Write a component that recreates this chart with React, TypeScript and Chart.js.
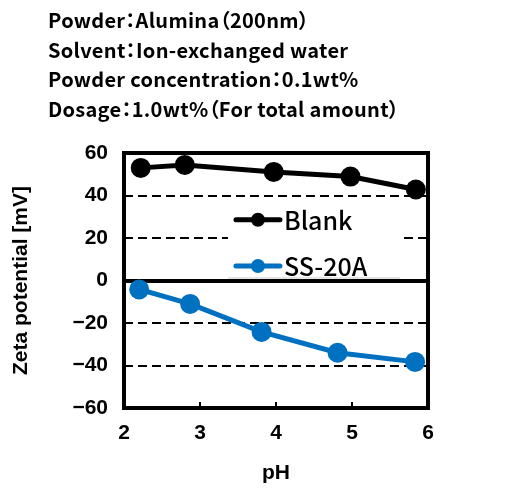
import { Chart, registerables } from 'chart.js';
import { useEffect, useRef } from 'react';

Chart.register(...registerables);

const headerLines = [
    'Powder：Alumina（200nm）',
    'Solvent：Ion-exchanged water',
    'Powder concentration：0.1wt%',
    'Dosage：1.0wt%（For total amount）',
];

const seriesNames = ['Blank', 'SS-20A'];
const blankPH = [2.22, 2.8, 3.97, 4.98, 5.84];
const blankZeta = [53.0, 54.4, 51.1, 48.9, 42.8];
const ss20aPH = [2.2, 2.87, 3.81, 4.81, 5.83];
const ss20aZeta = [-4.2, -11.0, -24.2, -34.0, -38.3];

const xTicks = [2, 3, 4, 5, 6];
const yTicks = [-60, -40, -20, 0, 20, 40, 60];

const BLUE = '#0070C0';
const AXIS_FONT = { family: '"Liberation Sans", Arial, sans-serif', size: 21, weight: 'bold' as const };

// frame, x tick marks and the legend drawn inside the plot
const framePlugin = {
    id: 'frame',
    beforeDatasetsDraw(chart: any) {
        const { ctx, chartArea } = chart;
        const { left, top, right, bottom } = chartArea;
        const w = right - left;
        const h = bottom - top;

        // legend box
        const bx = left + w * 0.342;
        const by = top + h * 0.184;
        const bw = w * 0.566;
        const bh = h * 0.31;
        ctx.save();
        ctx.fillStyle = '#fff';
        ctx.fillRect(bx, by, bw, bh);
        ctx.strokeStyle = '#c8c8c8';
        ctx.lineWidth = 1;
        ctx.beginPath();
        ctx.moveTo(bx, by + bh - 1);
        ctx.lineTo(bx + bw, by + bh - 1);
        ctx.stroke();

        ctx.font = '500 25px "Noto Sans CJK JP", sans-serif';
        ctx.textBaseline = 'middle';
        ctx.textAlign = 'left';
        chart.data.datasets.forEach((ds: any, i: number) => {
            const y = by + bh * (0.25 + i * 0.585);
            const x0 = bx + 8;
            ctx.strokeStyle = ds.borderColor;
            ctx.lineWidth = 5;
            ctx.lineCap = 'round';
            ctx.beginPath();
            ctx.moveTo(x0, y);
            ctx.lineTo(x0 + 44, y);
            ctx.stroke();
            ctx.fillStyle = ds.borderColor;
            ctx.beginPath();
            ctx.arc(x0 + 22, y, 7, 0, Math.PI * 2);
            ctx.fill();
            ctx.fillStyle = '#000';
            ctx.fillText(ds.label, x0 + 48, y + 1);
        });

        // plot frame
        ctx.strokeStyle = '#000';
        ctx.lineWidth = 4;
        ctx.lineCap = 'butt';
        ctx.strokeRect(left, top, w, h);

        // small inward tick marks on the x axis
        const xs = chart.scales.x;
        ctx.lineWidth = 2;
        xs.ticks.forEach((t: any) => {
            if (t.value <= xs.min || t.value >= xs.max) return;
            const px = xs.getPixelForValue(t.value);
            ctx.beginPath();
            ctx.moveTo(px, bottom);
            ctx.lineTo(px, bottom - 6);
            ctx.stroke();
        });
        ctx.restore();
    },
};

function ZetaChart() {
    const chartRef = useRef<HTMLCanvasElement>(null);
    const chartInstance = useRef<Chart | null>(null);

    useEffect(() => {
        if (!chartRef.current) return;
        if (chartInstance.current) chartInstance.current.destroy();

        const ctx = chartRef.current.getContext('2d');
        if (!ctx) return;

        const config: any = {
            type: 'line',
            data: {
                datasets: [
                    {
                        label: seriesNames[0],
                        data: blankPH.map((x, i) => ({ x, y: blankZeta[i] })),
                        borderColor: '#000',
                        backgroundColor: '#000',
                        borderWidth: 5,
                        pointRadius: 10,
                        pointBorderWidth: 0,
                        tension: 0,
                        clip: false,
                    },
                    {
                        label: seriesNames[1],
                        data: ss20aPH.map((x, i) => ({ x, y: ss20aZeta[i] })),
                        borderColor: BLUE,
                        backgroundColor: BLUE,
                        borderWidth: 5,
                        pointRadius: 10,
                        pointBorderWidth: 0,
                        tension: 0,
                        clip: false,
                    },
                ],
            },
            options: {
                responsive: false,
                animation: false,
                layout: { padding: { top: 153, right: 77, left: 0, bottom: 0 } },
                plugins: {
                    legend: { display: false },
                    tooltip: { enabled: false },
                    title: { display: false },
                },
                scales: {
                    x: {
                        type: 'linear',
                        min: xTicks[0],
                        max: xTicks[xTicks.length - 1],
                        afterBuildTicks: (s: any) => {
                            s.ticks = xTicks.map((v) => ({ value: v }));
                        },
                        afterFit: (s: any) => {
                            s.height = 82;
                        },
                        grid: { display: false },
                        border: { display: false },
                        ticks: { color: '#000', font: AXIS_FONT, padding: 5, maxRotation: 0 },
                        title: {
                            display: true,
                            text: 'pH',
                            color: '#000',
                            font: AXIS_FONT,
                            padding: { top: 0, bottom: 4 },
                        },
                    },
                    y: {
                        type: 'linear',
                        min: yTicks[0],
                        max: yTicks[yTicks.length - 1],
                        afterBuildTicks: (s: any) => {
                            s.ticks = yTicks.map((v) => ({ value: v }));
                        },
                        afterFit: (s: any) => {
                            s.width = 124;
                        },
                        grid: {
                            drawTicks: false,
                            color: '#000',
                            lineWidth: (c: any) => {
                                const v = c.tick?.value;
                                if (v === 0) return 4;
                                if (v === yTicks[0] || v === yTicks[yTicks.length - 1]) return 0;
                                return 2;
                            },
                        },
                        border: {
                            display: false,
                            dash: (c: any) => (c.tick?.value === 0 ? [] : [9, 5]),
                        },
                        ticks: {
                            color: '#000',
                            font: AXIS_FONT,
                            padding: 16,
                            callback: (v: number) => String(v).replace('-', '\u2212'),
                        },
                        title: {
                            display: true,
                            text: 'Zeta potential [mV]',
                            color: '#000',
                            font: AXIS_FONT,
                            padding: { top: 9, bottom: 0 },
                        },
                    },
                },
            },
            plugins: [framePlugin],
        };

        chartInstance.current = new Chart(ctx, config);

        return () => {
            if (chartInstance.current) {
                chartInstance.current.destroy();
                chartInstance.current = null;
            }
        };
    }, []);

    return <canvas ref={chartRef} width={505} height={490} style={{ position: 'absolute', left: 0, top: 0 }} />;
}

export default function App() {
    return (
        <div style={{ position: 'absolute', left: 0, top: 0, width: 505, height: 490, background: '#fff' }}>
            <ZetaChart />
            <div
                style={{
                    position: 'absolute',
                    left: 48,
                    top: 5,
                    fontFamily: '"Noto Sans CJK JP", sans-serif',
                    fontWeight: 'bold',
                    fontSize: 20,
                    letterSpacing: '0.3px',
                    lineHeight: '29.5px',
                    fontFeatureSettings: '"palt"',
                    color: '#000',
                    whiteSpace: 'nowrap',
                }}
            >
                {headerLines.map((t) => (
                    <div key={t}>{t}</div>
                ))}
            </div>
        </div>
    );
}
